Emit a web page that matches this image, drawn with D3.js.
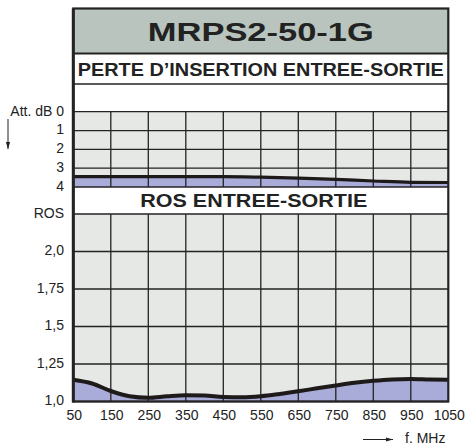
<!DOCTYPE html>
<html><head><meta charset="utf-8">
<script src="https://cdn.jsdelivr.net/npm/d3@7"></script>
<style>body{margin:0;background:#fff}svg{display:block}text{font-family:"Liberation Sans",Arial,sans-serif;fill:#222}</style>
</head><body><svg id="c" width="467" height="445"></svg>
<script>
const title = "MRPS2-50-1G";
const lossTitle = "PERTE D\u2019INSERTION ENTREE-SORTIE";
const rosTitle = "ROS ENTREE-SORTIE";
const freqTicks = [50,150,250,350,450,550,650,750,850,950,1050];
const lossTicks = [0,1,2,3,4];
const rosTicks = [1.0,1.25,1.5,1.75,2.0];
const rosTickLabels = ["1,0","1,25","1,5","1,75","2,0"];
const lossFreq = [50,150,250,350,450,550,650,750,850,950,1050];
const lossValues = [3.45,3.45,3.45,3.45,3.45,3.48,3.53,3.6,3.68,3.75,3.76];
const rosFreq = [50,100,150,200,250,300,350,400,450,500,550,600,650,700,750,800,850,900,950,1000,1050];
const rosValues = [1.145,1.12,1.07,1.035,1.025,1.035,1.042,1.04,1.03,1.028,1.035,1.05,1.068,1.088,1.107,1.125,1.138,1.147,1.15,1.147,1.145];

const svg = d3.select("#c");
const L = 73.3, R = 448.3, T = 8.5;
const x = d3.scaleLinear().domain([50,1050]).range([L,R]);
const yL = d3.scaleLinear().domain([0,4]).range([111.7,187]);
const yR = d3.scaleLinear().domain([1,2.25]).range([401.5,214]);
const dark = "#232323";

// title band
svg.append("rect").attr("x",L).attr("y",T).attr("width",R-L).attr("height",53.5-T).attr("fill","#b8c4bd");
// grid backgrounds
svg.append("rect").attr("x",L).attr("y",yL(0)).attr("width",R-L).attr("height",yL(4)-yL(0)).attr("fill","#e6e8e5");
svg.append("rect").attr("x",L).attr("y",yR(2.25)).attr("width",R-L).attr("height",yR(1)-yR(2.25)).attr("fill","#e6e8e5");

// fills
const lossData = lossFreq.map((f,i)=>[f,lossValues[i]]);
const rosData = rosFreq.map((f,i)=>[f,rosValues[i]]);
svg.append("path").datum(lossData).attr("fill","#a9acd8")
  .attr("d", d3.area().x(d=>x(d[0])).y0(yL(4)).y1(d=>yL(d[1])).curve(d3.curveMonotoneX));
svg.append("path").datum(rosData).attr("fill","#a9acd8")
  .attr("d", d3.area().x(d=>x(d[0])).y0(yR(1)).y1(d=>yR(d[1])).curve(d3.curveMonotoneX));

// gridlines
const g = svg.append("g").attr("stroke",dark).attr("stroke-width",1.3);
freqTicks.slice(1,-1).forEach(f=>{
  g.append("line").attr("x1",x(f)).attr("x2",x(f)).attr("y1",yL(0)).attr("y2",yL(4));
  g.append("line").attr("x1",x(f)).attr("x2",x(f)).attr("y1",yR(2.25)).attr("y2",yR(1));
});
lossTicks.forEach(v=>g.append("line").attr("x1",L).attr("x2",R).attr("y1",yL(v)).attr("y2",yL(v)));
rosTicks.concat([2.25]).forEach(v=>g.append("line").attr("x1",L).attr("x2",R).attr("y1",yR(v)).attr("y2",yR(v)));

// curves
svg.append("path").datum(lossData).attr("fill","none").attr("stroke","#1e1a1a").attr("stroke-width",3.2)
  .attr("d", d3.line().x(d=>x(d[0])).y(d=>yL(d[1])).curve(d3.curveMonotoneX));
svg.append("path").datum(rosData).attr("fill","none").attr("stroke","#1e1a1a").attr("stroke-width",4)
  .attr("d", d3.line().x(d=>x(d[0])).y(d=>yR(d[1])).curve(d3.curveMonotoneX));

// frame lines
svg.append("line").attr("x1",L).attr("x2",R).attr("y1",53.5).attr("y2",53.5).attr("stroke",dark).attr("stroke-width",2.2);
svg.append("line").attr("x1",L).attr("x2",R).attr("y1",84).attr("y2",84).attr("stroke",dark).attr("stroke-width",1.6);
svg.append("rect").attr("x",L).attr("y",T).attr("width",R-L).attr("height",yR(1)-T)
  .attr("fill","none").attr("stroke",dark).attr("stroke-width",2.2);
svg.append("line").attr("x1",L).attr("x2",L).attr("y1",T).attr("y2",yR(1)+1).attr("stroke",dark).attr("stroke-width",3);

// titles
const cx = (L+R)/2;
svg.append("text").attr("x",cx).attr("y",40.5).attr("text-anchor","middle").attr("font-size",26).attr("font-weight","bold")
  .attr("textLength",226).attr("lengthAdjust","spacingAndGlyphs").text(title);
svg.append("text").attr("x",cx).attr("y",75.5).attr("text-anchor","middle").attr("font-size",18).attr("font-weight","bold")
  .attr("textLength",366).attr("lengthAdjust","spacingAndGlyphs").text(lossTitle);
svg.append("text").attr("x",cx-7).attr("y",207).attr("text-anchor","middle").attr("font-size",18).attr("font-weight","bold")
  .attr("textLength",227).attr("lengthAdjust","spacingAndGlyphs").text(rosTitle);

// axis labels
const lab = svg.append("g").attr("font-size",14);
lossTicks.forEach(v=>lab.append("text").attr("x",64).attr("y",yL(v)-1).attr("dy","0.35em").attr("text-anchor","end")
  .text(v===0 ? "Att. dB 0" : String(v)));
rosTicks.forEach((v,i)=>lab.append("text").attr("x",64).attr("y",yR(v)-1).attr("dy","0.35em").attr("text-anchor","end").text(rosTickLabels[i]));
lab.append("text").attr("x",64).attr("y",yR(2.25)-1).attr("dy","0.35em").attr("text-anchor","end").text("ROS");
freqTicks.forEach(f=>lab.append("text").attr("x",x(f)+1).attr("y",420).attr("text-anchor","middle").text(f));
lab.append("text").attr("x",405).attr("y",443).text("f. MHz");

// arrows
svg.append("defs").append("marker").attr("id","ah").attr("viewBox","0 0 10 10").attr("refX",10).attr("refY",5)
  .attr("markerWidth",7).attr("markerHeight",7).attr("markerUnits","userSpaceOnUse").attr("orient","auto")
  .append("path").attr("d","M0,2L10,5L0,8Z").attr("fill","#222");
svg.append("line").attr("x1",8).attr("x2",8).attr("y1",119).attr("y2",149).attr("stroke","#222").attr("stroke-width",1).attr("marker-end","url(#ah)");
svg.append("line").attr("x1",363).attr("x2",393).attr("y1",439.5).attr("y2",439.5).attr("stroke","#222").attr("stroke-width",1).attr("marker-end","url(#ah)");
</script></body></html>
